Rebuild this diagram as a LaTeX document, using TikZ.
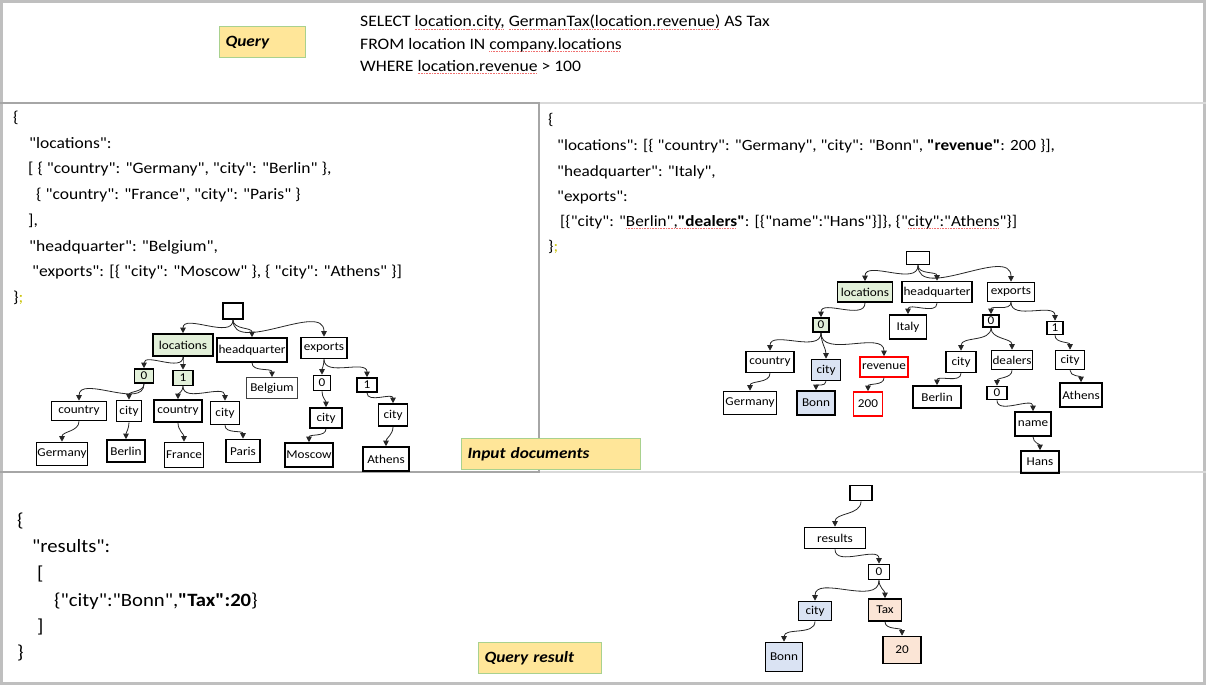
\documentclass[tikz,border=0pt]{standalone}
\usepackage{fontspec}
\setmainfont{Carlito}[Ligatures=TeXOff]
\newfontfamily\jf{Carlito}[Ligatures=TeXOff, FakeStretch=1.1]
\usetikzlibrary{arrows.meta}
\definecolor{lblfill}{HTML}{FFE699}
\definecolor{lbldraw}{HTML}{A9D18E}
\definecolor{gfill}{HTML}{E2F0D9}
\definecolor{bfill}{HTML}{DAE3F3}
\definecolor{pfill}{HTML}{FBE5D6}
\definecolor{framec}{HTML}{BFBFBF}
\definecolor{divdark}{HTML}{A6A6A6}
\definecolor{divlight}{HTML}{D9D9D9}
\definecolor{semic}{HTML}{C8C000}
\definecolor{squigc}{HTML}{F07070}
\newcommand\sqw[1]{\setbox0\hbox{#1}\rlap{\raisebox{-2.8pt}{\color{squigc}\hbox to \wd0{\leaders\hbox to 1.6pt{\rule{1pt}{0.6pt}\hss}\hfill}}}\box0\relax}
\tikzset{
  txt/.style={anchor=base west, inner sep=0pt, font=\jf\fontsize{15.9}{18}\selectfont},
  txtr/.style={anchor=base west, inner sep=0pt, font=\jf\fontsize{15.6}{18}\selectfont},
  txtq/.style={anchor=base west, inner sep=0pt, font=\jf\fontsize{16}{18}\selectfont},
  txtb/.style={anchor=base west, inner sep=0pt, font=\jf\fontsize{18.8}{22}\selectfont},
  lbl/.style={anchor=north west, draw=lbldraw, fill=lblfill, line width=1.2pt,
    inner xsep=6pt, inner ysep=0pt, align=left, font=\jf\fontsize{15.7}{18}\selectfont\bfseries\itshape},
  nd/.style={draw=black, line width=1.6pt, inner sep=0pt, font=\jf\fontsize{12}{14}\selectfont},
  sz/.style 2 args={minimum width=#1pt, minimum height=#2pt},
  ar/.style={-{Triangle[length=5.5pt,width=5.5pt]}, line width=0.8pt, black!85},
}
\begin{document}
\begin{tikzpicture}[x=1pt,y=-1pt]
\useasboundingbox (0,0) rectangle (1206,685);
% frame and dividers
\draw[framec, line width=3pt] (1.5,1.5) rectangle (1204.5,683.5);
\draw[divdark, line width=2pt] (0,103) -- (540,103);
\draw[divlight, line width=1.2pt] (540,103) -- (1206,103);
\draw[divdark, line width=1.2pt] (539,103) -- (539,472);
\draw[divdark, line width=2pt] (0,472) -- (540,472);
\draw[divlight, line width=1.2pt] (540,472) -- (1206,472);

% labels
\node[lbl, minimum height=31pt, text width=74pt] (qlab) at (219,26) {Query};
\node[lbl, minimum height=31pt, text width=167pt] (ilab) at (461,438) {Input documents};
\node[lbl, minimum height=31pt, text width=111pt] (rlab) at (478,642) {Query result};

% query
\node[txtq] (q1) at (360,27) {SELECT \sqw{location.city,} \sqw{GermanTax(location.revenue)} AS Tax};
\node[txtq] (q2) at (360,49) {FROM location IN \sqw{company.locations}};
\node[txtq] (q3) at (360,71) {WHERE \sqw{location.revenue} > 100};

% left json
\node[txt] (a1) at (13,122.5) {\{};
\node[txt] (a2) at (29,148.2) {"locations":};
\node[txt] (a3) at (28,173.9) {[ \{ "country": "Germany", "city": "Berlin" \},};
\node[txt] (a4) at (36,199.6) {\{ "country": "France", "city": "Paris" \}};
\node[txt] (a5) at (28,225.3) {],};
\node[txt] (a6) at (29,251) {"headquarter": "Belgium",};
\node[txt] (a7) at (32,276.7) {"exports": [\{ "city": "Moscow" \}, \{ "city": "Athens" \}]};
\node[txt] (a8) at (13,302.4) {\}\textcolor{semic}{;}};

% right json
\node[txtr] (b1) at (548,124) {\{};
\node[txtr] (b2) at (557,150) {"locations": [\{ "country": "Germany", "city": "Bonn", \textbf{"revenue"}: 200 \}],};
\node[txtr] (b3) at (557,176) {"headquarter": "Italy",};
\node[txtr] (b4) at (557,201) {"exports":};
\node[txtr] (b5) at (560,226) {[\{"city": "\sqw{Berlin",\textbf{"dealers}}\textbf{"}: [\{"name":"Hans"\}]\}, \{"\sqw{city":"Athens}"\}]};
\node[txtr] (b6) at (548,251) {\}\textcolor{semic}{;}};

% result json
\node[txtb] (c1) at (17,526) {\{};
\node[txtb] (c2) at (32,552) {"results":};
\node[txtb] (c3) at (37,579) {[};
\node[txtb] (c4) at (54,606) {\{"city":"Bonn",\textbf{"Tax":20}\}};
\node[txtb] (c5) at (37,632) {]};
\node[txtb] (c6) at (17,658) {\}};

% left tree
\node[nd, sz={20}{16}] (L0) at (233,311) {};
\node[nd, sz={60}{22}, fill=gfill] (Lloc) at (183,345) {locations};
\node[nd, sz={70}{24}] (Lhq) at (252,350) {headquarter};
\node[nd, sz={46}{21}] (Lex) at (324,348) {exports};
\node[nd, sz={19}{14}, fill=gfill] (Ll0) at (144,376) {0};
\node[nd, sz={20}{15}, fill=gfill] (Ll1) at (183,378) {1};
\node[nd, sz={51}{21}, line width=0.8pt, draw=black!75] (Lbel) at (272,388) {Belgium};
\node[nd, sz={17}{15}] (Le0) at (322,383) {0};
\node[nd, sz={20}{14}] (Le1) at (367,385) {1};
\node[nd, sz={55}{19}] (Lc0) at (79,411) {country};
\node[nd, sz={25}{21}] (Lci0) at (129,411) {city};
\node[nd, sz={48}{22}] (Lc1) at (178,411) {country};
\node[nd, sz={29}{23}] (Lci1) at (225,413) {city};
\node[nd, sz={32}{20}] (Lec0) at (326,418) {city};
\node[nd, sz={29}{22}] (Lec1) at (393,415) {city};
\node[nd, sz={51}{23}] (Lger) at (62,454) {Germany};
\node[nd, sz={38}{22}] (Lber) at (126,451) {Berlin};
\node[nd, sz={39}{25}] (Lfra) at (184,455) {France};
\node[nd, sz={34}{23}] (Lpar) at (243,451) {Paris};
\node[nd, sz={48}{24}] (Lmos) at (309,455) {Moscow};
\node[nd, sz={46}{24}] (Lath) at (386,459) {Athens};
\foreach \p/\c in {L0/Lloc, L0/Lhq, L0/Lex, Lloc/Ll0, Lloc/Ll1, Lhq/Lbel, Lex/Le0, Lex/Le1,
  Ll0/Lc0, Ll0/Lci0, Ll1/Lc1, Ll1/Lci1, Le0/Lec0, Le1/Lec1, Lc0/Lger, Lci0/Lber,
  Lc1/Lfra, Lci1/Lpar, Lec0/Lmos, Lec1/Lath}
  \draw[ar] (\p.south) to[out=-90,in=90] (\c.north);

% right tree
\node[nd, sz={23}{13}] (R0) at (918,258) {};
\node[nd, sz={55}{20}, fill=gfill] (Rloc) at (865,292) {locations};
\node[nd, sz={70}{21}] (Rhq) at (937,292) {headquarter};
\node[nd, sz={47}{19}] (Rex) at (1011,292) {exports};
\node[nd, sz={16}{14}, fill=gfill] (Rl0) at (821,325) {0};
\node[nd, sz={37}{24}] (Rit) at (908,327) {Italy};
\node[nd, sz={16}{12}] (Re0) at (991,321) {0};
\node[nd, sz={16}{13}] (Re1) at (1055,328) {1};
\node[nd, sz={48}{21}] (Rco) at (770,362) {country};
\node[nd, sz={29}{21}, fill=bfill] (Rci) at (826,370) {city};
\node[nd, sz={48}{20}, draw=red] (Rrev) at (884,367) {revenue};
\node[nd, sz={30}{21}] (Rec0) at (961,362) {city};
\node[nd, sz={41}{19}] (Rdl) at (1012,360) {dealers};
\node[nd, sz={29}{19}] (Rec1) at (1070,360) {city};
\node[nd, sz={53}{23}] (Rger) at (750,403) {Germany};
\node[nd, sz={38}{24}, fill=bfill] (Rbonn) at (816,403) {Bonn};
\node[nd, sz={29}{24}, draw=red] (R200) at (868,404) {200};
\node[nd, sz={48}{22}] (Rber) at (937,397) {Berlin};
\node[nd, sz={20}{13}] (Rd0) at (997,393) {0};
\node[nd, sz={42}{24}] (Rath) at (1081,395) {Athens};
\node[nd, sz={36}{24}] (Rnm) at (1033,424) {name};
\node[nd, sz={38}{22}] (Rhans) at (1040,462) {Hans};
\foreach \p/\c in {R0/Rloc, R0/Rhq, R0/Rex, Rloc/Rl0, Rhq/Rit, Rex/Re0, Rex/Re1,
  Rl0/Rco, Rl0/Rci, Rl0/Rrev, Re0/Rec0, Re0/Rdl, Re1/Rec1, Rco/Rger, Rci/Rbonn,
  Rrev/R200, Rec0/Rber, Rdl/Rd0, Rec1/Rath, Rd0/Rnm, Rnm/Rhans}
  \draw[ar] (\p.south) to[out=-90,in=90] (\c.north);

% result tree
\node[nd, sz={22}{15}] (B0) at (861,493) {};
\node[nd, sz={61}{21}] (Bres) at (835,538) {results};
\node[nd, sz={21}{15}] (B00) at (879,572) {0};
\node[nd, sz={33}{19}, fill=bfill] (Bci) at (815,611) {city};
\node[nd, sz={33}{22}, fill=pfill] (Btax) at (885,610) {Tax};
\node[nd, sz={37}{29}, fill=bfill] (Bbonn) at (784,657) {Bonn};
\node[nd, sz={38}{27}, fill=pfill] (B20) at (902,650) {20};
\foreach \p/\c in {B0/Bres, Bres/B00, B00/Bci, B00/Btax, Bci/Bbonn, Btax/B20}
  \draw[ar] (\p.south) to[out=-90,in=90] (\c.north);
\end{tikzpicture}
\end{document}
